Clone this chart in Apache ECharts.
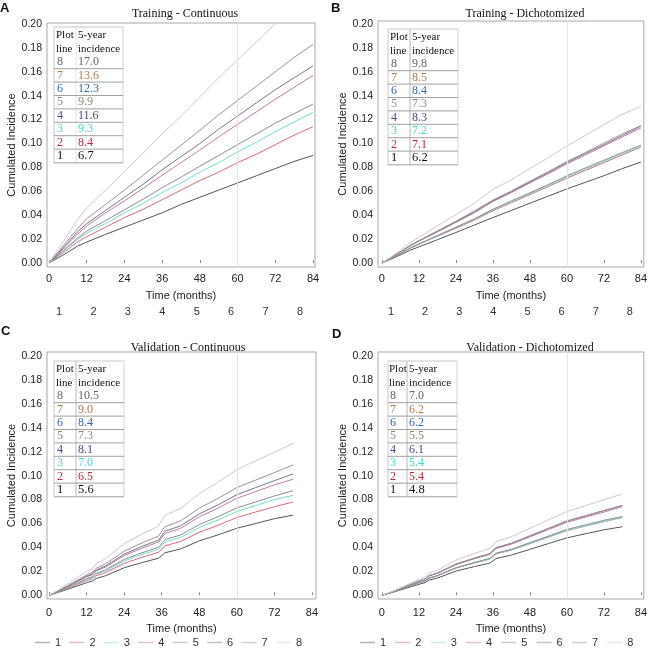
<!DOCTYPE html>
<html>
<head>
<meta charset="utf-8">
<script src="https://cdn.jsdelivr.net/npm/echarts@6/dist/echarts.min.js"></script>
<style>html,body{margin:0;padding:0;background:#fff}#c{width:650px;height:648px}</style>
</head>
<body>
<div id="c"></div>
<script>
// ---------- DATA ----------
const lineNames = ['1','2','3','4','5','6','7','8'];
const monthsTrain = [0,3,6,9,12,18,24,30,36,42,48,54,60,66,72,78,84];
const monthsValid = [0,3,6,9,12,14,15,18,24,30,35,37,42,48,54,60,66,72,78];
const yTicks = [0,0.02,0.04,0.06,0.08,0.10,0.12,0.14,0.16,0.18,0.20];
const xTicks = [0,12,24,36,48,60,72,84];

// rows = plot lines 1..8
const trainContinuous = [
  [0,0.0045,0.009,0.014,0.0175,0.024,0.030,0.036,0.042,0.049,0.055,0.061,0.067,0.073,0.079,0.085,0.090],
  [0,0.0058,0.0115,0.0175,0.022,0.030,0.038,0.045,0.053,0.061,0.069,0.076,0.084,0.091,0.099,0.107,0.114],
  [0,0.0065,0.013,0.0195,0.025,0.033,0.042,0.050,0.059,0.067,0.076,0.084,0.093,0.101,0.110,0.118,0.126],
  [0,0.008,0.016,0.024,0.031,0.042,0.052,0.0625,0.0735,0.084,0.0945,0.1055,0.116,0.1265,0.137,0.147,0.157],
  [0,0.007,0.0138,0.0207,0.0267,0.0355,0.0445,0.0535,0.063,0.0718,0.081,0.090,0.099,0.108,0.117,0.125,0.133],
  [0,0.0086,0.017,0.026,0.033,0.044,0.055,0.066,0.078,0.089,0.100,0.112,0.123,0.134,0.145,0.155,0.165],
  [0,0.0095,0.019,0.0285,0.037,0.049,0.061,0.0735,0.086,0.0985,0.111,0.124,0.136,0.148,0.160,0.172,0.183],
  [0,0.012,0.024,0.036,0.046,0.061,0.0765,0.092,0.108,0.123,0.139,0.155,0.170,0.185,0.200,0.216,0.232]
];
const trainDichotomized = [
  [0,0.0033,0.0068,0.0105,0.0135,0.0195,0.0255,0.0318,0.038,0.044,0.050,0.056,0.062,0.0675,0.073,0.079,0.0845],
  [0,0.0038,0.0078,0.012,0.0157,0.0224,0.029,0.036,0.0437,0.0505,0.0572,0.064,0.071,0.0775,0.084,0.0905,0.097],
  [0,0.0038,0.0079,0.0122,0.0158,0.0227,0.0296,0.0367,0.0445,0.0512,0.058,0.0648,0.072,0.0785,0.085,0.0915,0.0975],
  [0,0.0044,0.0091,0.014,0.0183,0.026,0.034,0.042,0.0515,0.059,0.067,0.0747,0.083,0.0905,0.098,0.1055,0.113],
  [0,0.0039,0.008,0.0124,0.016,0.023,0.030,0.037,0.045,0.052,0.0588,0.0657,0.073,0.0795,0.086,0.0925,0.0985],
  [0,0.0045,0.0092,0.0143,0.0185,0.0265,0.0345,0.043,0.052,0.0596,0.0677,0.0757,0.084,0.0915,0.099,0.1067,0.1145],
  [0,0.0045,0.0094,0.0145,0.0187,0.0268,0.035,0.0435,0.0527,0.0603,0.0685,0.0765,0.085,0.0925,0.1003,0.108,0.115],
  [0,0.0052,0.0108,0.0167,0.0216,0.031,0.0405,0.050,0.0617,0.0696,0.079,0.0882,0.098,0.1067,0.1157,0.1245,0.131]
];
const validContinuous = [
  [0,0.0025,0.005,0.0078,0.0105,0.012,0.014,0.0163,0.023,0.0275,0.031,0.0355,0.0387,0.0455,0.0505,0.056,0.060,0.064,0.067],
  [0,0.0028,0.0058,0.009,0.0122,0.014,0.0163,0.0189,0.0267,0.032,0.036,0.0413,0.045,0.0527,0.0585,0.065,0.0696,0.074,0.078],
  [0,0.003,0.0063,0.0098,0.0133,0.015,0.0175,0.0203,0.0287,0.0343,0.0385,0.0445,0.0483,0.0567,0.063,0.070,0.075,0.080,0.0835],
  [0,0.0034,0.0073,0.0113,0.0154,0.0174,0.0203,0.0235,0.0332,0.0397,0.0446,0.0516,0.0559,0.0656,0.0729,0.081,0.0867,0.0923,0.097],
  [0,0.0031,0.0066,0.0102,0.0139,0.0157,0.0183,0.0212,0.030,0.0358,0.0402,0.0465,0.0504,0.0591,0.0657,0.073,0.078,0.083,0.0875],
  [0,0.0035,0.0076,0.0118,0.016,0.018,0.021,0.0244,0.0344,0.0412,0.0462,0.0535,0.058,0.068,0.0756,0.084,0.090,0.0958,0.1015],
  [0,0.0038,0.0081,0.0126,0.0171,0.0193,0.0225,0.0261,0.0369,0.0441,0.0495,0.0573,0.0621,0.0729,0.081,0.090,0.0963,0.1026,0.109],
  [0,0.0044,0.0095,0.0147,0.020,0.0225,0.0263,0.0305,0.0431,0.0515,0.0578,0.0668,0.0725,0.085,0.0945,0.105,0.1124,0.1197,0.127]
];
const validDichotomized = [
  [0,0.0021,0.0044,0.0068,0.0092,0.0106,0.0125,0.0144,0.0202,0.024,0.0269,0.0307,0.0336,0.0384,0.0432,0.048,0.0514,0.0547,0.0573],
  [0,0.0023,0.0049,0.0076,0.0103,0.0119,0.014,0.0162,0.0227,0.027,0.0302,0.0346,0.0378,0.0432,0.0486,0.054,0.0578,0.0616,0.065],
  [0,0.0023,0.005,0.0077,0.0104,0.012,0.0141,0.0163,0.0228,0.0271,0.0303,0.0347,0.0379,0.0433,0.0487,0.054,0.0579,0.0617,0.0652],
  [0,0.0025,0.0055,0.0086,0.0116,0.0134,0.0159,0.0183,0.0256,0.0305,0.0342,0.039,0.0427,0.0488,0.0549,0.061,0.0653,0.0695,0.0742],
  [0,0.0023,0.005,0.0078,0.0105,0.0121,0.0143,0.0165,0.0231,0.0275,0.0308,0.0352,0.0385,0.044,0.0495,0.055,0.0589,0.0627,0.0658],
  [0,0.0025,0.0056,0.0087,0.0118,0.0136,0.0161,0.0186,0.026,0.031,0.0347,0.0397,0.0434,0.0496,0.0558,0.062,0.0663,0.0707,0.075],
  [0,0.0026,0.0057,0.0088,0.0119,0.0137,0.0162,0.0187,0.0261,0.0311,0.0348,0.0398,0.0435,0.0497,0.0559,0.0622,0.0665,0.0709,0.0752],
  [0,0.0028,0.0063,0.0098,0.0133,0.0154,0.0182,0.021,0.0294,0.035,0.0392,0.0448,0.049,0.056,0.063,0.070,0.0749,0.0798,0.0847]
];

// table (rows listed top to bottom: plot line 8 .. 1)
const tableLines = ['8','7','6','5','4','3','2','1'];
const incTrainCont = ['17.0','13.6','12.3','9.9','11.6','9.3','8.4','6.7'];
const incTrainDich = ['9.8','8.5','8.4','7.3','8.3','7.2','7.1','6.2'];
const incValidCont = ['10.5','9.0','8.4','7.3','8.1','7.0','6.5','5.6'];
const incValidDich = ['7.0','6.2','6.2','5.5','6.1','5.4','5.4','4.8'];

const titles = ['Training - Continuous','Training - Dichotomized','Validation - Continuous','Validation - Dichotomized'];
const panelLetters = ['A','B','C','D'];

// ---------- STYLE ----------
const lineColors = ['#555555','#d96a7e','#78dccf','#c27aa6','#8e8e8e','#78788e','#a0929a','#d2c6cc'];
const tableColors = ['#666666','#b07a46','#2e6da4','#8a8a78','#4a4a86','#3fd8cc','#c4283e','#111111'];
const SANS = 'Arial, "Liberation Sans", Helvetica, sans-serif';
const SERIF = '"Times New Roman", "Liberation Serif", serif';

const panels = [
  {data: trainContinuous, months: monthsTrain, inc: incTrainCont,
   grid:{left:47, top:23, width:268, height:244}, x:[-0.636,84.636], y:[-0.00335,0.20084],
   title:{cx:180, top:3}, letter:{x:0, y:2},
   table:{x0:54, x1:123, top:27, c1:56, c2:78, sep:76, sepColor:'#e4e4e4'},
   legend:{left:36, top:306, gap:8.3, show:false}, xLabelMargin:6, xNameGap:23, yNameGap:30},
  {data: trainDichotomized, months: monthsTrain, inc: incTrainDich,
   grid:{left:378, top:21, width:271, height:246}, x:[-1.273,84.955], y:[-0.00335,0.20251],
   title:{cx:520, top:3}, letter:{x:331, y:2},
   table:{x0:388, x1:458, top:29, c1:390, c2:412, sep:410, sepColor:'#b8b8b8'},
   legend:{left:368, top:306, gap:8.0, show:false}, xLabelMargin:6, xNameGap:23, yNameGap:28},
  {data: validContinuous, months: monthsValid, inc: incValidCont,
   grid:{left:47, top:352, width:269, height:247}, x:[-0.639,85.28], y:[-0.0031,0.20334],
   title:{cx:183, top:337}, letter:{x:1, y:325},
   table:{x0:54, x1:124, top:361, c1:56, c2:78, sep:76, sepColor:'#b8b8b8'},
   legend:{left:35, top:637, gap:8.3, show:true}, xLabelMargin:8, xNameGap:24, yNameGap:30},
  {data: validDichotomized, months: monthsValid, inc: incValidDich,
   grid:{left:378, top:352, width:271, height:247}, x:[-1.273,84.955], y:[-0.0031,0.20334],
   title:{cx:525, top:337}, letter:{x:332, y:328},
   table:{x0:388, x1:457, top:361, c1:389, c2:409, sep:407, sepColor:'#b8b8b8'},
   legend:{left:360, top:637, gap:9.2, show:true}, xLabelMargin:8, xNameGap:24, yNameGap:28}
];

// ---------- BUILD ----------
const option = {
  backgroundColor:'#fff', animation:false,
  grid:[], xAxis:[], yAxis:[], series:[], title:[], legend:[], graphic:[]
};

panels.forEach((p, pi) => {
  option.grid.push(Object.assign({show:true, borderColor:'#a9a9a9', borderWidth:1, backgroundColor:'transparent'}, p.grid));
  option.xAxis.push({
    type:'value', gridIndex:pi, min:p.x[0], max:p.x[1],
    name:'Time (months)', nameLocation:'middle', nameGap:p.xNameGap,
    nameTextStyle:{fontFamily:SANS, fontSize:11, color:'#222'},
    axisLine:{show:false}, splitLine:{show:false},
    axisTick:{show:true, inside:true, length:3, customValues:xTicks, lineStyle:{color:'#888'}},
    axisLabel:{customValues:xTicks, margin:p.xLabelMargin, fontFamily:SANS, fontSize:11, color:'#222'}
  });
  option.yAxis.push({
    type:'value', gridIndex:pi, min:p.y[0], max:p.y[1],
    name:'Cumulated Incidence', nameLocation:'middle', nameGap:p.yNameGap,
    nameTextStyle:{fontFamily:SANS, fontSize:11, color:'#222'},
    axisLine:{show:false}, splitLine:{show:false}, axisTick:{show:false},
    axisLabel:{customValues:yTicks, margin:5, fontFamily:SANS, fontSize:10.5, color:'#222',
      formatter:v => v.toFixed(2)}
  });
  p.data.forEach((vals, li) => {
    const s = {
      type:'line', name:lineNames[li], xAxisIndex:pi, yAxisIndex:pi,
      data: p.months.map((m, k) => [m, vals[k]]),
      symbol:'none', color:lineColors[li],
      lineStyle:{width:1, color:lineColors[li]}, clip:true, z:3
    };
    if (li === 0) {
      s.markLine = {silent:true, symbol:'none', label:{show:false},
        lineStyle:{color:'#e4e4e4', type:'solid', width:1}, data:[{xAxis:60}]};
    }
    option.series.push(s);
  });
  option.title.push({
    text:titles[pi], left:p.title.cx, top:p.title.top, textAlign:'center',
    textStyle:{fontFamily:SERIF, fontSize:12, fontWeight:'normal', color:'#111'}
  });
  option.legend.push({
    data:lineNames, left:p.legend.left, top:p.legend.top, orient:'horizontal',
    icon:'rect', itemWidth:15, itemHeight:1.5, itemGap:p.legend.gap, padding:0, selectedMode:false,
    textStyle:{fontFamily:SANS, fontSize:11, color:'#333'},
    itemStyle:{opacity:p.legend.show ? 0.45 : 0}
  });
  // panel letter
  option.graphic.push({type:'text', left:p.letter.x, top:p.letter.y,
    style:{text:panelLetters[pi], font:'bold 13px ' + SANS, fill:'#111'}});
  // table
  const t = p.table;
  const rowH = 13.4;
  const firstRow = t.top + 35;
  const bottom = firstRow + 7 * rowH + 7;
  const lineStyle = {stroke:'#a0a0a0', lineWidth:1};
  const els = [];
  els.push({type:'line', shape:{x1:t.x0, y1:t.top, x2:t.x1, y2:t.top}, style:{stroke:'#c8c8c8', lineWidth:1}});
  els.push({type:'line', shape:{x1:t.x0, y1:t.top, x2:t.x0, y2:bottom}, style:{stroke:'#c8c8c8', lineWidth:1}});
  els.push({type:'line', shape:{x1:t.x1, y1:t.top, x2:t.x1, y2:bottom}, style:{stroke:'#d4d4d4', lineWidth:1}});
  els.push({type:'line', shape:{x1:t.sep, y1:t.top, x2:t.sep, y2:bottom}, style:{stroke:t.sepColor, lineWidth:1}});
  const hf = '11px ' + SERIF;
  els.push({type:'text', x:t.c1, y:t.top + 8, style:{text:'Plot', font:hf, fill:'#111', textVerticalAlign:'middle'}});
  els.push({type:'text', x:t.c2, y:t.top + 8, style:{text:'5-year', font:hf, fill:'#111', textVerticalAlign:'middle'}});
  els.push({type:'text', x:t.c1, y:t.top + 22, style:{text:'line', font:hf, fill:'#111', textVerticalAlign:'middle'}});
  els.push({type:'text', x:t.c2, y:t.top + 22, style:{text:'incidence', font:hf, fill:'#111', textVerticalAlign:'middle'}});
  tableLines.forEach((ln, r) => {
    const cy = firstRow + r * rowH;
    const f = (r === 7 ? '12.5px ' : '12px ') + SERIF;
    els.push({type:'text', x:t.c1 + 1, y:cy, style:{text:ln, font:f, fill:tableColors[r], textVerticalAlign:'middle'}});
    els.push({type:'text', x:t.c2, y:cy, style:{text:p.inc[r], font:f, fill:tableColors[r], textVerticalAlign:'middle'}});
    if (r >= 1) {
      const ly = cy - rowH / 2;
      els.push({type:'line', shape:{x1:t.x0, y1:ly, x2:t.x1, y2:ly}, style:lineStyle});
    }
  });
  els.push({type:'line', shape:{x1:t.x0, y1:bottom, x2:t.x1, y2:bottom}, style:lineStyle});
  option.graphic.push({type:'group', left:0, top:0, bounding:'raw', children:els.map(e => Object.assign(e, {silent:true}))});
});

const chart = echarts.init(document.getElementById('c'), null, {renderer:'canvas'});
chart.setOption(option);
</script>
</body>
</html>
